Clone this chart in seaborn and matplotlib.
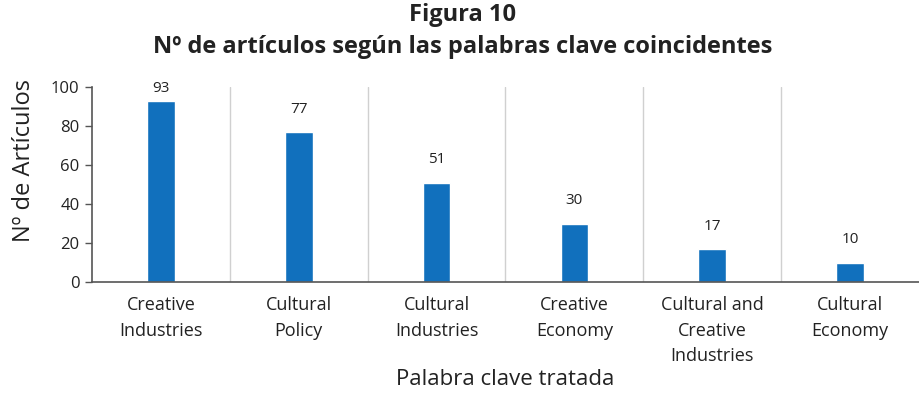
import matplotlib
matplotlib.use("Agg")
import matplotlib.pyplot as plt
import seaborn as sns
import pandas as pd
import numpy as np

categories = ["Creative\nIndustries", "Cultural\nPolicy", "Cultural\nIndustries",
              "Creative\nEconomy", "Cultural and\nCreative\nIndustries", "Cultural\nEconomy"]
values = [93, 77, 51, 30, 17, 10]
yticks = [0, 20, 40, 60, 80, 100]

sns.set_theme(style="white")
plt.rcParams['font.family'] = ['Open Sans', 'DejaVu Sans']

df = pd.DataFrame({"cat": categories, "val": values})

fig = plt.figure(figsize=(9.19, 4.0), dpi=100)
ax = fig.add_axes([0.1001, 0.295, 0.8999, 0.4875])

sns.barplot(data=df, x="cat", y="val", color="#1170BD", width=0.2, saturation=1, ax=ax)

ax.set_xlim(-0.5, len(categories) - 0.5)
ax.set_ylim(0, 100)
ax.set_yticks(yticks)
ax.set_yticklabels([str(t) for t in yticks], fontsize=12, color="#222222")

ax.set_xticks(range(len(categories)))
ax.set_xticklabels(categories, fontsize=13, color="#222222", linespacing=1.55)
bounds = np.arange(-0.5, len(categories), 1.0)
ax.set_xticks(bounds, minor=True)
ax.tick_params(axis="x", which="major", length=0, pad=10)
ax.tick_params(axis="x", which="minor", length=5, width=1, color="#555555", direction="out")
ax.tick_params(axis="y", which="major", length=5, width=1, color="#555555", direction="out", pad=4, left=True)

for b in bounds[1:-1]:
    ax.axvline(b, color="#d0d0d0", lw=1, zorder=0)

for s in ["top", "right"]:
    ax.spines[s].set_visible(False)
for s in ["left", "bottom"]:
    ax.spines[s].set_color("#555555")
    ax.spines[s].set_linewidth(1.2)

labs = ax.bar_label(ax.containers[0], labels=[str(v) for v in values], padding=11, fontsize=11, color="#222222")
for t, v in zip(labs, values):
    if v > 85:
        t.xyann = (t.xyann[0], 3)

ax.set_ylabel("Nº de Artículos", fontsize=17, color="#222222")
ax.yaxis.set_label_coords(-0.068, 0.625)
ax.set_xlabel("Palabra clave tratada", fontsize=16, color="#222222", labelpad=3)

fig.text(0.503, 0.962, "Figura 10", ha="center", va="center", fontsize=17, fontweight="bold", color="#222222")
fig.text(0.503, 0.882, "Nº de artículos según las palabras clave coincidentes", ha="center", va="center",
         fontsize=17, fontweight="bold", color="#222222")

fig.savefig("out.png", dpi=100)
